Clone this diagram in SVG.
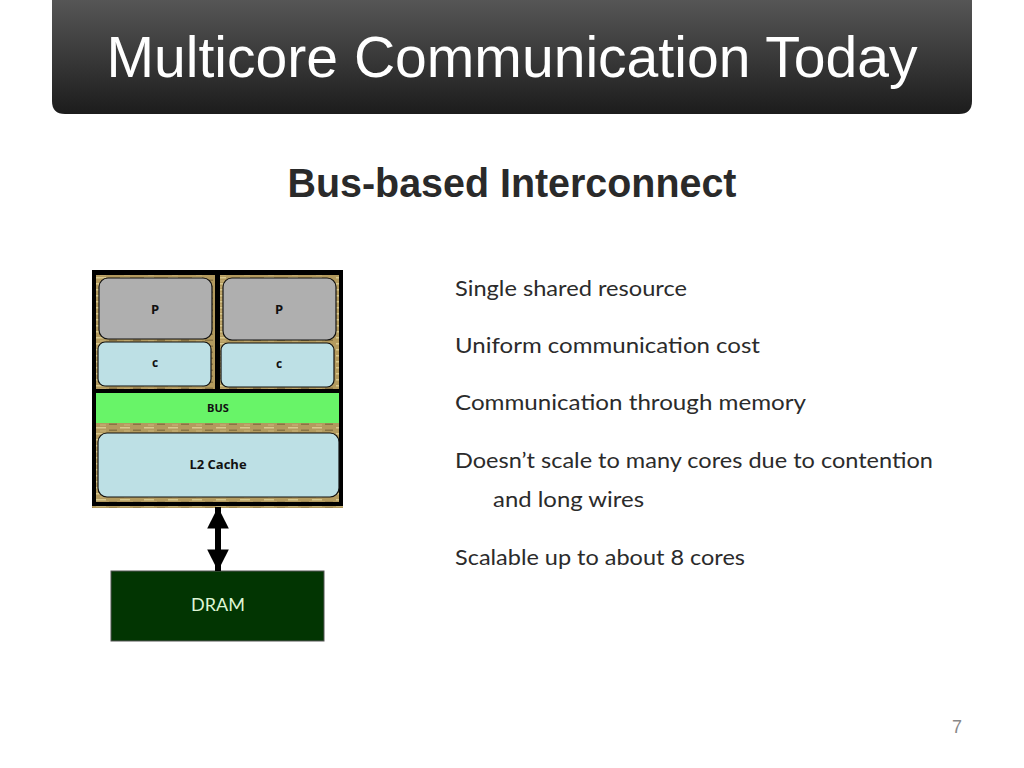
<svg xmlns="http://www.w3.org/2000/svg" width="1024" height="768" viewBox="0 0 1024 768">
<defs>
<linearGradient id="bar" x1="0" y1="0" x2="0" y2="1">
<stop offset="0" stop-color="#565656"/>
<stop offset="1" stop-color="#1c1c1c"/>
</linearGradient>
<pattern id="tan" width="24" height="6" patternUnits="userSpaceOnUse">
<rect width="24" height="6" fill="#b39a5e"/>
<rect x="0" y="1" width="10" height="1.5" fill="#d8c88e"/>
<rect x="13" y="3.5" width="8" height="1.5" fill="#8a7444"/>
<rect x="4" y="4.5" width="6" height="1" fill="#cbb57a"/>
</pattern>
<marker id="ah" viewBox="0 0 10 10" refX="10" refY="5" markerWidth="3.6" markerHeight="3.6" orient="auto-start-reverse" markerUnits="strokeWidth">
<path d="M0,0 L10,5 L0,10 z" fill="#000"/>
</marker>
<style>
.lbl{font-family:"Open Sans","Liberation Sans",sans-serif;font-weight:bold;fill:#111;text-anchor:middle}
.body{font-family:Lato,"Open Sans",sans-serif;font-size:22px;fill:#2b2b2b}
.box{stroke:#111;stroke-width:1.2}
</style>
</defs>
<rect width="1024" height="768" fill="#fff"/>
<g id="title">
<path d="M52,0 H972 V101 Q972,114 959,114 H65 Q52,114 52,101 Z" fill="url(#bar)"/>
<text x="512" y="77" font-family="Liberation Sans,Arial,sans-serif" font-size="58" fill="#fff" text-anchor="middle" textLength="811" lengthAdjust="spacingAndGlyphs">Multicore Communication Today</text>
</g>
<text id="subtitle" x="512" y="197" font-family="Liberation Sans,Arial,sans-serif" font-size="40" font-weight="bold" fill="#2a2a2a" text-anchor="middle" textLength="449" lengthAdjust="spacingAndGlyphs">Bus-based Interconnect</text>
<g id="chip">
<rect x="92" y="270" width="251" height="238" fill="url(#tan)"/>
<rect x="92" y="270" width="251" height="236" fill="#000"/>
<rect x="96" y="275" width="119" height="114" fill="url(#tan)"/>
<rect x="220" y="275" width="119" height="114" fill="url(#tan)"/>
<rect x="96" y="423" width="243" height="79" fill="url(#tan)"/>
</g>
<g id="p1"><rect class="box" x="99" y="278" width="113" height="61" rx="9" fill="#afafaf"/><text class="lbl" x="155" y="314" font-size="13">P</text></g>
<g id="p2"><rect class="box" x="223" y="278" width="113" height="62" rx="9" fill="#afafaf"/><text class="lbl" x="279" y="314" font-size="13">P</text></g>
<g id="c1"><rect class="box" x="98" y="342" width="113" height="44" rx="7" fill="#bde0e5"/><text class="lbl" x="155" y="367" font-size="12">c</text></g>
<g id="c2"><rect class="box" x="221" y="343" width="113" height="44" rx="7" fill="#bde0e5"/><text class="lbl" x="279" y="368" font-size="12">c</text></g>
<g id="bus"><rect x="96" y="393" width="243" height="30" fill="#68f468"/><text class="lbl" x="218" y="412" font-size="11" fill="#133">BUS</text></g>
<g id="l2"><rect class="box" x="98" y="433" width="241" height="64" rx="9" fill="#bde0e5"/><text class="lbl" x="218" y="469" font-size="13">L2 Cache</text></g>
<g id="dram"><rect x="111" y="571" width="213" height="70" fill="#023502" stroke="#555" stroke-width="1"/><text x="218" y="611" font-family="Lato,'Open Sans',sans-serif" font-size="18" fill="#dff5d5" text-anchor="middle">DRAM</text></g>
<g id="connectors">
<line x1="218" y1="507" x2="218" y2="571" stroke="#000" stroke-width="6" marker-start="url(#ah)" marker-end="url(#ah)"/>
</g>
<g id="bullets" class="body">
<text x="455" y="296" textLength="232" lengthAdjust="spacingAndGlyphs">Single shared resource</text>
<text x="455" y="353" textLength="305" lengthAdjust="spacingAndGlyphs">Uniform communication cost</text>
<text x="455" y="410" textLength="351" lengthAdjust="spacingAndGlyphs">Communication through memory</text>
<text x="455" y="468" textLength="478" lengthAdjust="spacingAndGlyphs">Doesn’t scale to many cores due to contention</text>
<text x="493" y="507" textLength="151" lengthAdjust="spacingAndGlyphs">and long wires</text>
<text x="455" y="565" textLength="290" lengthAdjust="spacingAndGlyphs">Scalable up to about 8 cores</text>
</g>
<text id="page" x="962" y="733" font-family="Liberation Sans,Arial,sans-serif" font-size="18" fill="#888" text-anchor="end">7</text>
</svg>
